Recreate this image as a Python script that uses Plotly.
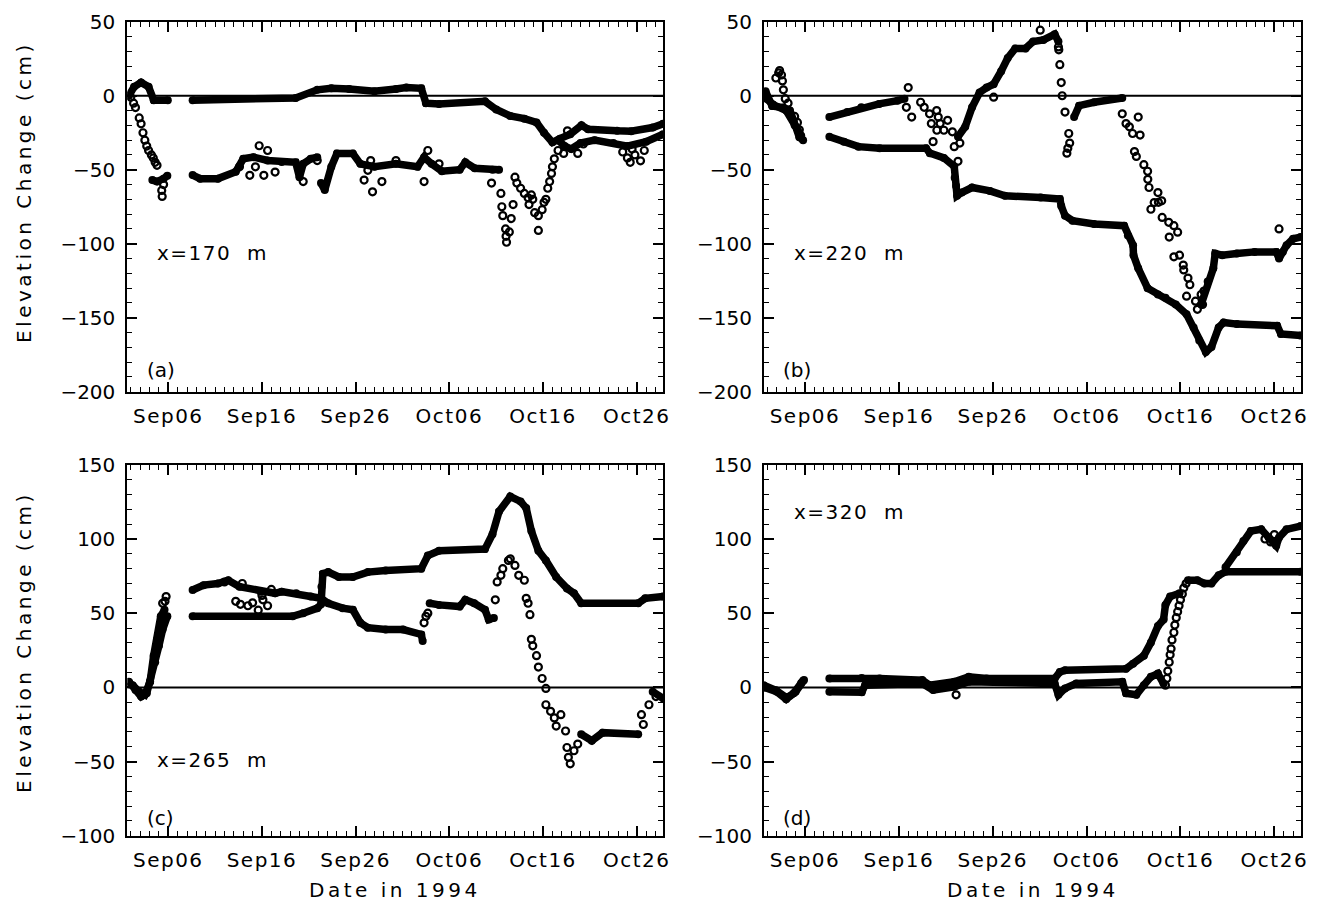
import plotly.graph_objects as go
import pandas as pd

# ---------------- data (day = days after 1994-08-31, value in cm) ----------------
# Panel (a) x=170 m
a_fill_day = [1.8, 2.35, 3.1, 3.9, 4.45, 5.95, None,
              8.6, 19.6, 21.9, 23.4, 25.3, 28.0, 30.3, 31.4, 33.0, 33.5, 34.9, 39.8, 41.0, 42.5,
              44.0, 45.3, 46.1, 47.0, 47.8, 48.9, 50.1, 50.8, 53.9, 55.4, 57.7, 58.8]
a_fill_cm = [0, 6, 9, 6, -3, -3, None,
             -3, -1.5, 4, 5, 4.5, 3, 4.5, 5.5, 5, -5, -5.5, -3.8, -9.3, -13.7,
             -15.5, -18, -25, -31.5, -29, -26, -20, -22.6, -23.7, -24, -21.5, -19]
a_open_day = [4.3, 4.8, 5.5, 5.9, None,
              8.6, 9.4, 11.3, 13.2, 14.0, 15.1, 16.6, 18.1, 19.6, 20.0, 20.4, 21.2, 21.9, None,
              22.3, 22.7, 23.4, 24.0, 25.7, 26.5, 28.0, 30.3, 32.6, 33.3, 34.1, 35.2, 37.1, 37.7,
              38.7, 40.6, 41.3, None,
              47.6, 48.3, 49.0, 50.0, 51.5, 53.5, 55.0, 57.0, 58.8]
a_open_cm = [-57, -58, -56, -54, None,
             -53.6, -56, -56, -51.4, -42.6, -41.5, -43.7, -44.8, -45, -55, -46, -42.6, -41.5, None,
             -59, -63.6, -48, -39, -39, -46, -48, -46, -48, -41.5, -46, -51, -50, -45,
             -49, -50, -50, None,
             -30, -34, -36, -32, -30, -32, -34, -31, -26]
a_pts_day = [2.0, 2.3, 2.5, 2.9, 3.1, 3.3, 3.5, 3.7, 3.9, 4.2, 4.4, 4.6, 4.8, 5.3, 5.35, 5.5,
             13.6, 14.7, 15.3, 15.7, 16.2, 16.6, 17.4, 20.4, 21.9, 26.9, 27.3, 27.6, 27.8, 28.8,
             30.3, 33.3, 33.7, 34.9,
             40.5, 41.5, 41.6, 41.7, 42.0, 42.05, 42.1, 42.4, 42.6, 42.8, 43.0, 43.2, 43.6, 44.0,
             44.4, 44.75, 44.9, 44.5, 45.1, 45.5, 45.5, 45.9, 46.1, 46.3, 46.5, 46.7, 46.9, 47.0,
             47.2, 47.6, 48.2, 48.6, 49.7, 50.3, 54.5, 55.0, 55.3, 55.8, 56.4, 56.8, 55.5]
a_pts_cm = [-1, -5, -8, -15, -19, -25, -30, -34, -37, -40, -42, -45, -47, -64, -68, -60,
            -48, -53.8, -48, -33.8, -53.8, -37, -51.6, -58, -43.8, -57, -50.4, -43.8, -64.9, -58,
            -43.8, -58, -37, -46,
            -59, -66, -75, -81, -90, -95, -99, -92, -83, -73.5, -55, -59, -62.5, -66,
            -69, -67, -70, -73.5, -79, -81, -91, -77, -72, -70, -62.5, -58, -52.5, -48,
            -42.6, -37, -39, -23.7, -39, -32.6, -38, -42, -45, -40, -44, -37, -36]

# Panel (b) x=220 m
b_fill_day = [1.8, 2.5, 3.7, 4.4, 4.8, 5.4, 5.8, None,
              8.6, 10.15, 11.7, 13.95, 18.9, 19.3, 20.8, 21.9, 21.95, 22.1, 22.2, 22.7, 23.8, 25.7,
              27.3, 31.1, 33.15, 33.3, 33.7, 34.5, 36.8, 40.0, 40.4, 40.95, 41.0, 41.5, 42.5, 43.6,
              44.4, 45.5, 46.65, 47.4, 48.0, 48.7, 49.3, 50.07, 50.6, 52.0, 56.3, 56.7, 58.8]
b_fill_cm = [3, -7, -8, -10, -17, -28, -30, None,
             -27.7, -31, -34.4, -35.5, -35.5, -38.8, -42, -47.7, -55.4, -61, -67.6, -65.4, -62, -64.3,
             -67.6, -68.7, -69.8, -74.5, -81, -84.4, -86.7, -87.8, -94.4, -101, -107.7, -116.6, -130, -134.3,
             -136.5, -141, -147.6, -156.5, -165.4, -173.1, -169.8, -156.5, -153.2, -154.3, -155.4, -161, -162]
b_open_day = [1.9, 2.6, 4.0, 4.9, 5.6, None,
              8.6, 10.5, 12.0, 13.9, 15.85, 16.6, None,
              22.3, 23.07, 23.8, 24.6, 25.35, 26.1, 26.9, 27.6, 28.4, 29.5, 30.3, 31.4, 32.6, 33.0, None,
              34.67, 35.2, 36.8, 38.7, 39.8, None,
              48.2, 48.9, 49.5, 49.7, 50.45, 52.0, 53.9, 56.2, 56.5, 56.9, 57.3, 58.0, 58.8]
b_open_cm = [-2, -6, -10, -20, -27, None,
             -14.4, -11, -7.8, -5.5, -3.3, -2, None,
             -27.7, -21, -7.8, 2.2, 5.5, 7.8, 16.6, 25.5, 32, 32, 36.6, 37.7, 41.5, 36.6, None,
             -14.4, -6.7, -4.4, -2.2, -1.5, None,
             -141, -125.5, -116.6, -106.6, -107.7, -106.6, -105.5, -105.5, -110, -105.5, -101, -96.6, -95.5]
b_pts_day = [2.9, 3.2, 3.3, 3.5, 3.6, 3.7, 3.9, 4.2, 4.9, 5.2, 5.4,
             16.8, 17.0, 17.37, 18.32, 18.7, 19.27, 19.46, 20.03, 20.2, 20.05, 20.4, 20.8, 21.2,
             19.65, 21.7, 21.9, 22.5, 22.3, 26.1,
             31.06, 33.0, 33.04, 33.15, 33.3, 33.4, 33.7, 34.1, 34.2, 33.9, 34.0,
             39.8, 40.2, 40.56, 40.9, 41.5, 41.7, 41.1, 41.3, 42.1, 42.5, 42.52, 42.65, 43.6, 44.0,
             43.65, 42.85, 43.2, 44.05, 44.75, 45.3, 45.7, 44.8, 45.3, 45.9, 46.3, 46.35, 46.8, 47.0,
             46.65, 47.6, 47.8, 48.2, 48.35, 48.5, 56.5]
b_pts_cm = [12, 15.5, 17, 14, 10, 4, -2, -5, -14, -18, -23,
            -7.8, 5.5, -14.4, -4.4, -7.8, -12.2, -18.8, -10, -14.4, -23.3, -18.8, -23.3, -16.6,
            -31, -24.4, -34.4, -32, -44.3, -1,
            44.3, 33, 31, 21, 8.9, 0, -11, -25.5, -32, -38.8, -35.5,
            -12.2, -18.8, -21, -25.5, -14.4, -26.6, -37.7, -41, -46.6, -51, -56.5, -62, -65.4, -71,
            -72, -76.7, -72.2, -82.2, -85.5, -87.8, -92.2, -95.5, -108.8, -107.7, -114.4, -117.7, -123.2, -127.7,
            -135.4, -138.8, -144.3, -134.3, -141, -132, -90]

# Panel (c) x=265 m
c_fill_day = [1.8, 2.5, 3.1, 3.7, 4.06, 4.6, 5.0, 5.4, 5.9, None,
              8.6, 19.27, 20.4, 21.9, 22.3, 22.35, 22.5, 23.07, 24.2, 25.7, 27.3, 29.2, 33.0, 33.7,
              34.9, 39.8, 40.6, 41.3, 42.5, 43.6, 44.2, 44.75, 45.5, 46.3, 47.4, 48.55, 49.3, 50.07,
              56.15, 56.9, 58.8]
c_fill_cm = [3.8, -1.8, -6.2, -4, 3.8, 17, 28, 39, 48, None,
             47.9, 47.9, 50, 53.4, 56, 67.8, 76.6, 77.7, 74.4, 74.4, 77.7, 78.8, 80, 88.8,
             92.1, 93.2, 103.2, 118.6, 128.6, 125.3, 120.8, 105.4, 92.1, 85.5, 74.4, 66.7, 63.4, 56.7,
             56.7, 60, 61.2]
c_open_day = [2.2, 2.9, 3.5, 4.06, 4.44, 4.82, 5.2, 5.6, None,
              8.6, 9.77, 11.3, 12.4, 13.6, 15.85, 17.4, 18.1, 19.65, 21.2, 22.3, 23.07, 24.6, 25.7,
              26.5, 27.3, 29.2, 31.06, 33.0, 33.15, None,
              33.9, 34.9, 37.1, 37.7, 38.65, 39.8, 40.2, 40.75, None,
              50.07, 51.2, 52.35, 56.15, None,
              57.7, 58.8]
c_open_cm = [1.5, -3, -5, 3.8, 21.4, 32.4, 47.9, 52.3, None,
             65.6, 68.9, 70, 72.2, 67.8, 64.5, 63.4, 64.5, 63.4, 61.2, 60, 56.7, 53.4, 52.3,
             43.5, 40.2, 39, 39, 35.7, 31.3, None,
             56.7, 55.6, 54.5, 59, 56.7, 52.3, 45.7, 46.8, None,
             -31.6, -36, -30.5, -31.6, None,
             -2.9, -7.3]
c_pts_day = [5.4, 5.65, 5.77,
             12.0, 13.2, 13.7, 13.9, 14.5, 15.0, 15.6, 16.0, 16.1, 16.6, 17.0,
             33.3, 33.5, 33.7, 40.9, 41.1, 41.5, 41.7, 42.3, 42.5, 43.0, 43.4, 44.0, 44.2, 44.4,
             44.6, 44.75, 44.9, 45.3, 45.5, 45.9, 46.3, 46.3, 46.8, 47.2, 47.4, 47.9, 48.4, 48.55,
             48.7, 48.9, 49.3, 49.7, 56.5, 56.7, 57.3, 58.05]
c_pts_cm = [56.7, 58, 61.2,
            71, 58, 56, 70, 55, 57, 52, 62, 59, 55, 66,
            43.5, 47.9, 50, 59, 71.1, 75.5, 80, 85.5, 86.6, 82.2, 75.5, 72.2, 60, 56.7,
            49, 32.4, 28, 21.4, 13.7, 6, -0.7, -11.7, -16.1, -20.6, -26.1, -18.4, -29.4, -40.5,
            -47.1, -51.5, -42.7, -38.2, -18.4, -25, -11.7, -6.2]

# Panel (d) x=320 m
d_fill_day = [1.6, 2.9, 4.06, 4.8, 5.6, 5.8, None,
              8.6, 12.05, 13.95, 18.5, 19.27, 21.9, 23.45, 25.35, 32.6, 33.15, 33.7, 40.2, 40.95,
              42.1, 42.85, 43.6, 44.2, 44.4, 44.9, 45.9, None,
              50.8, 52.0, 52.7, 53.5, 54.6, 55.4, 56.2, 56.5, 57.3, 58.8]
d_fill_cm = [1.5, -2, -7, -4, 3, 4.5, None,
             6, 6.4, 6, 4.9, 1.5, 3.8, 7.1, 6, 6, 10.4, 11.5, 12.6, 15.9,
             21.4, 30.2, 41.3, 45.7, 55.6, 61.2, 63.4, None,
             81, 91, 98.7, 105.4, 106.5, 101, 95.4, 101, 106.5, 108.7]
d_open_day = [1.7, 3.0, 4.0, 5.0, 5.9, None,
              8.6, 12.05, 12.4, 18.5, 19.65, 21.9, 23.45, 32.6, 33.0, 33.7, 34.9, 39.8, 40.2,
              41.3, 42.1, 42.85, 43.6, 44.2, None,
              46.8, 47.8, 48.55, 49.3, 50.07, 50.8, 58.8]
d_open_cm = [0, -3, -8, -3, 5, None,
             -2.9, -3.3, 1.5, 2.6, -1.8, 0.4, 3.8, 2.6, -5, -0.7, 2.6, 3.8, -4,
             -5, 1.5, 7.1, 9.3, 2.6, None,
             72.2, 72.2, 70, 70, 75.5, 78, 78]
d_pts_day = [22.1, 44.4, 44.55, 44.65, 44.8, 44.9, 45.0, 45.1, 45.3, 45.4, 45.55, 45.7, 45.85,
             46.0, 46.2, 46.35, 46.6, 55.0, 55.6, 56.0]
d_pts_cm = [-5, 1.5, 6, 11, 17, 22, 26, 32, 37, 42, 47, 51, 55,
            59, 63, 67, 70, 100, 98, 103]

panel_labels = ["(a)", "(b)", "(c)", "(d)"]
site_labels = ["x=170 m", "x=220 m", "x=265 m", "x=320 m"]
tick_days = [6, 16, 26, 36, 46, 56]
tick_text = ["Sep06", "Sep16", "Sep26", "Oct06", "Oct16", "Oct26"]
x_range_days = [1.63, 58.85]
y_ranges = [[-200, 50], [-200, 50], [-100, 150], [-100, 150]]
y_title = "Elevation Change (cm)"
x_title = "Date in 1994"

# ---------------- helpers ----------------
BASE = pd.Timestamp("1994-08-31")


def to_dates(days):
    return [None if d is None else (BASE + pd.Timedelta(days=float(d))).strftime("%Y-%m-%d %H:%M:%S")
            for d in days]


W, H = 1326, 914
col_px = [(128, 667), (768, 1308)]
row_px = [(10, 390), (465, 846)]

FONT = "DejaVu Sans"

fig = go.Figure()

panels = [
    (a_fill_day, a_fill_cm, a_open_day, a_open_cm, a_pts_day, a_pts_cm),
    (b_fill_day, b_fill_cm, b_open_day, b_open_cm, b_pts_day, b_pts_cm),
    (c_fill_day, c_fill_cm, c_open_day, c_open_cm, c_pts_day, c_pts_cm),
    (d_fill_day, d_fill_cm, d_open_day, d_open_cm, d_pts_day, d_pts_cm),
]

layout_axes = {}
annotations = []
shapes = []

for i, (fd, fc, od, oc, pd_, pc) in enumerate(panels):
    n = i + 1
    xa = "x" if n == 1 else f"x{n}"
    ya = "y" if n == 1 else f"y{n}"
    r, c = divmod(i, 2)
    x0p, x1p = col_px[c]
    y0p, y1p = row_px[r]

    fig.add_trace(go.Scatter(x=to_dates(od), y=oc, mode="lines+markers", xaxis=xa, yaxis=ya,
                             line=dict(color="black", width=7.5), marker=dict(size=8, color="black"),
                             connectgaps=False, showlegend=False, hoverinfo="skip"))
    fig.add_trace(go.Scatter(x=to_dates(fd), y=fc, mode="lines+markers", xaxis=xa, yaxis=ya,
                             line=dict(color="black", width=7.5), marker=dict(size=8, color="black"),
                             connectgaps=False, showlegend=False, hoverinfo="skip"))
    fig.add_trace(go.Scatter(x=to_dates(pd_), y=pc, mode="markers", xaxis=xa, yaxis=ya,
                             marker=dict(symbol="circle-open", size=7, color="black",
                                         line=dict(width=2.2, color="black")),
                             showlegend=False, hoverinfo="skip"))

    xkey = "xaxis" if n == 1 else f"xaxis{n}"
    ykey = "yaxis" if n == 1 else f"yaxis{n}"
    layout_axes[xkey] = dict(
        domain=[x0p / W, x1p / W], anchor=ya, type="date",
        range=to_dates(x_range_days),
        tickmode="array", tickvals=to_dates(tick_days),
        ticktext=[f'<span style="letter-spacing:1.5px">{t}</span>' for t in tick_text],
        ticks="inside", ticklen=10, tickwidth=1.5, tickcolor="black",
        minor=dict(dtick=86400000, ticks="inside", ticklen=5, tickwidth=1.2, tickcolor="black"),
        showline=True, linewidth=2, linecolor="black", mirror="ticks",
        showgrid=False, zeroline=False, ticklabelstandoff=5,
        tickfont=dict(family=FONT, size=20, color="black"),
    )
    layout_axes[ykey] = dict(
        domain=[1 - y1p / H, 1 - y0p / H], anchor=xa,
        range=y_ranges[i], dtick=50, tick0=0,
        ticks="inside", ticklen=10, tickwidth=1.5, tickcolor="black",
        minor=dict(dtick=10, ticks="inside", ticklen=5, tickwidth=1.2, tickcolor="black"),
        showline=True, linewidth=2, linecolor="black", mirror="ticks",
        showgrid=False, zeroline=False, ticklabelstandoff=6,
        tickfont=dict(family=FONT, size=20, color="black"),
    )

    shapes.append(dict(type="line", xref=f"{xa} domain", yref=ya, x0=0, x1=1, y0=0, y1=0,
                       line=dict(color="black", width=2), layer="below"))

    # site label and panel letter
    if r == 0:
        site_y, letter_y = -106, -185
    else:
        site_y, letter_y = (-49 if c == 0 else 118), -88
    annotations.append(dict(x=to_dates([4.6])[0], y=site_y, xref=xa, yref=ya, xanchor="left",
                            yanchor="middle", showarrow=False,
                            text='<span style="letter-spacing:1.5px">' + site_labels[i].replace(" ", "\u00a0 ") + "</span>",
                            font=dict(family=FONT, size=20, color="black")))
    annotations.append(dict(x=to_dates([3.5])[0], y=letter_y, xref=xa, yref=ya, xanchor="left",
                            yanchor="middle", showarrow=False, text=panel_labels[i],
                            font=dict(family=FONT, size=20, color="black")))

# axis titles
for r, yc in enumerate([185, 647]):
    annotations.append(dict(x=24 / W, y=1 - yc / H, xref="paper", yref="paper", showarrow=False,
                            textangle=-90, xanchor="center", yanchor="middle",
                            text=f'<span style="letter-spacing:3.5px">{y_title}</span>',
                            font=dict(family=FONT, size=20, color="black")))
for c in range(2):
    xc = (col_px[c][0] + col_px[c][1]) / 2
    annotations.append(dict(x=xc / W, y=1 - 902 / H, xref="paper", yref="paper", showarrow=False,
                            xanchor="center", yanchor="middle",
                            text=f'<span style="letter-spacing:3.5px">{x_title}</span>',
                            font=dict(family=FONT, size=20, color="black")))

fig.update_layout(width=W, height=H, margin=dict(l=0, r=0, t=0, b=0),
                  paper_bgcolor="white", plot_bgcolor="white",
                  annotations=annotations, shapes=shapes, **layout_axes)

fig.write_html("out.html", config={"displayModeBar": False},
               post_script="document.body.style.margin='0';")
